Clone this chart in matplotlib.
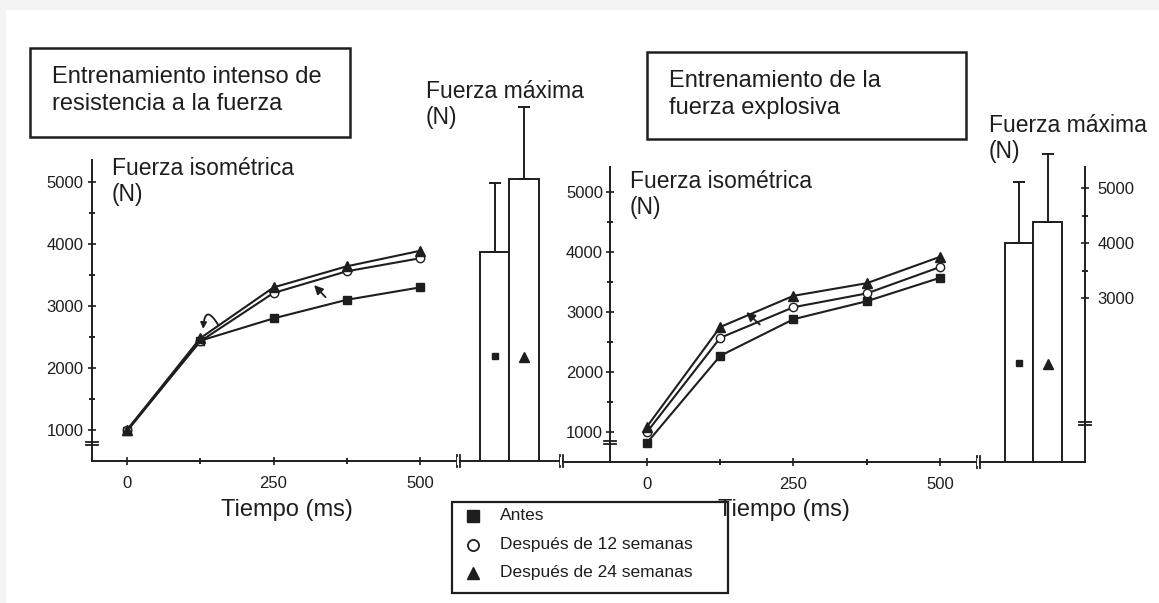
import matplotlib
matplotlib.use("Agg")
import matplotlib.pyplot as plt
from matplotlib.patches import Rectangle
from matplotlib.lines import Line2D

plt.rcParams['font.family'] = ['Liberation Sans', 'DejaVu Sans']

W, H = 1159, 603
INK = '#1e1e1e'

# datos
tiempo = [0, 125, 250, 375, 500]
tiempo_ticks = [0, 250, 500]
fuerza_ticks = [1000, 2000, 3000, 4000, 5000]

# Entrenamiento intenso de resistencia a la fuerza
res_antes = [980, 2440, 2800, 3100, 3300]
res_12 = [1000, 2430, 3210, 3560, 3770]
res_24 = [1000, 2480, 3300, 3640, 3890]
res_max = [3870, 5050]
res_max_err = [1110, 1160]
res_max_marca = [2190, 2170]

# Entrenamiento de la fuerza explosiva
exp_antes = [820, 2270, 2880, 3180, 3570]
exp_12 = [1000, 2570, 3080, 3310, 3750]
exp_24 = [1090, 2750, 3270, 3480, 3920]
exp_max = [4000, 4380]
exp_max_err = [1110, 1240]
exp_max_marca = [1820, 1800]
exp_max_ticks = [3000, 4000, 5000]

leyenda = ['Antes', 'Después de 12 semanas', 'Después de 24 semanas']


def rect(x0, y0, x1, y1):
    # pixel box -> figure coords
    return [x0 / W, 1 - y1 / H, (x1 - x0) / W, (y1 - y0) / H]


def fx(x):
    return x / W


def fy(y):
    return 1 - y / H


fig = plt.figure(figsize=(W / 100, H / 100), dpi=100, facecolor='#f4f4f4')
fig.add_artist(Rectangle((fx(6), 0), 1, fy(10), transform=fig.transFigure,
                         facecolor='white', edgecolor='none', zorder=-10))


def brk(x, y, vertical=True, gap=3, size=6):
    # small double stroke used as axis break
    for d in (-gap / 2, gap / 2):
        if vertical:
            xs, ys = [x + d, x + d], [y - size, y + size]
        else:
            xs, ys = [x - size, x + size], [y + d, y + d]
        fig.add_artist(Line2D([fx(v) for v in xs], [fy(v) for v in ys],
                              transform=fig.transFigure, color=INK, lw=1.3))
    if vertical:
        fig.add_artist(Rectangle((fx(x - gap / 2 + 0.6), fy(y + size - 2)),
                                 (gap - 1.2) / W, (2 * size - 4) / H,
                                 transform=fig.transFigure, facecolor='white',
                                 edgecolor='none', zorder=5))


def style_axis(ax):
    ax.set_facecolor('none')
    for s in ax.spines.values():
        s.set_color(INK)
        s.set_linewidth(1.4)
    ax.tick_params(colors=INK, labelsize=12, direction='inout', length=6, width=1.2)
    ax.tick_params(which='minor', direction='inout', length=5, width=1.2)


def curvas(ax, antes, s12, s24):
    kw = dict(color=INK, lw=1.5, clip_on=False)
    ax.plot(tiempo, antes, marker='s', ms=6, mfc=INK, mec=INK, **kw)
    ax.plot(tiempo, s12, marker='o', ms=6, mfc='white', mec=INK, **kw)
    ax.plot(tiempo, s24, marker='^', ms=7, mfc=INK, mec=INK, **kw)


# ---- panel izquierdo: curva
ax1 = fig.add_axes(rect(92, 160, 455, 461))
style_axis(ax1)
curvas(ax1, res_antes, res_12, res_24)
ax1.set_xlim(-59.7, 559.7)
ax1.set_ylim(500, 5355)
ax1.spines[['top', 'right']].set_visible(False)
ax1.set_xticks(tiempo_ticks)
ax1.set_xticks([125, 375], minor=True)
ax1.set_yticks(fuerza_ticks)
ax1.set_yticks([1500, 2500, 3500, 4500], minor=True)
ax1.tick_params(axis='x', pad=8)
ax1.tick_params(axis='y', pad=3)
ax1.annotate('', xy=(316, 3370), xytext=(342, 3110),
             arrowprops=dict(arrowstyle='-|>', color=INK, lw=1.3, mutation_scale=13))
ax1.annotate('', xy=(130, 2630), xytext=(156, 2690),
             arrowprops=dict(arrowstyle='-|>', color=INK, lw=1.3, mutation_scale=9,
                             shrinkA=0, shrinkB=0,
                             connectionstyle='arc3,rad=1.6'))

# ---- panel izquierdo: barras
ax2 = fig.add_axes(rect(458, 100, 562, 461))
style_axis(ax2)
ax2.bar([0, 1], res_max, width=1, bottom=0, facecolor='white', edgecolor=INK, lw=1.4)
ax2.errorbar([0, 1], res_max, yerr=[[0, 0], res_max_err], fmt='none',
             ecolor=INK, elinewidth=1.4, capsize=4, capthick=1.4)
ax2.plot([0], [res_max_marca[0]], 's', ms=5, color=INK)
ax2.plot([1], [res_max_marca[1]], '^', ms=7, color=INK)
ax2.set_xlim(-1.24, 2.29)
ax2.set_ylim(500, 6323)
ax2.spines[['top', 'right', 'left']].set_visible(False)
ax2.set_xticks([])
ax2.set_yticks([])

# ---- panel derecho: curva
ax3 = fig.add_axes(rect(562, 167, 975, 462))
style_axis(ax3)
curvas(ax3, exp_antes, exp_12, exp_24)
ax3.set_xlim(-145, 559.7)
ax3.set_ylim(500, 5417)
ax3.spines[['top', 'right']].set_visible(False)
ax3.spines['left'].set_position(('data', -63))
ax3.set_xticks(tiempo_ticks)
ax3.set_xticks([125, 375], minor=True)
ax3.set_yticks(fuerza_ticks)
ax3.set_yticks([1500, 2500, 3500, 4500], minor=True)
ax3.tick_params(axis='x', pad=8)
ax3.tick_params(axis='y', pad=2)
ax3.annotate('', xy=(166, 3030), xytext=(196, 2760),
             arrowprops=dict(arrowstyle='-|>', color=INK, lw=1.3, mutation_scale=13))

# ---- panel derecho: barras
ax4 = fig.add_axes(rect(978, 140, 1090, 462))
style_axis(ax4)
ax4.bar([0, 1], exp_max, width=1, bottom=0, facecolor='white', edgecolor=INK, lw=1.4)
ax4.errorbar([0, 1], exp_max, yerr=[[0, 0], exp_max_err], fmt='none',
             ecolor=INK, elinewidth=1.4, capsize=4, capthick=1.4)
ax4.plot([0], [exp_max_marca[0]], 's', ms=5, color=INK)
ax4.plot([1], [exp_max_marca[1]], '^', ms=7, color=INK)
ax4.set_xlim(-1.44, 2.49)
ax4.set_ylim(20, 5873)
ax4.spines[['top', 'left']].set_visible(False)
ax4.spines['right'].set_position(('data', 2.316))
ax4.spines['right'].set_bounds(20, 5380)
ax4.spines['bottom'].set_bounds(-1.44, 2.316)
ax4.yaxis.tick_right()
ax4.set_xticks([])
ax4.set_yticks(exp_max_ticks)
ax4.set_yticks([3500, 4500], minor=True)
ax4.tick_params(axis='y', pad=6)

# ---- cortes de eje
brk(458, 461)
brk(561, 461)
brk(978, 462)
brk(92, 443, vertical=False)
brk(610, 442, vertical=False)
brk(1085, 423, vertical=False)

# ---- textos
big = 16.5
fig.text(fx(112), fy(157), 'Fuerza isométrica\n(N)', fontsize=big, color=INK,
         va='top', linespacing=1.15)
fig.text(fx(630), fy(170), 'Fuerza isométrica\n(N)', fontsize=big, color=INK,
         va='top', linespacing=1.15)
fig.text(fx(426), fy(80), 'Fuerza máxima\n(N)', fontsize=big, color=INK,
         va='top', linespacing=1.15)
fig.text(fx(989), fy(114), 'Fuerza máxima\n(N)', fontsize=big, color=INK,
         va='top', linespacing=1.15)
fig.text(fx(287), fy(510), 'Tiempo (ms)', fontsize=17, color=INK, ha='center', va='center')
fig.text(fx(784), fy(510), 'Tiempo (ms)', fontsize=17, color=INK, ha='center', va='center')

# cajas de título
for (x0, y0, x1, y1), txt in [((30, 48, 350, 137), 'Entrenamiento intenso de\nresistencia a la fuerza'),
                              ((647, 52, 966, 139), 'Entrenamiento de la\nfuerza explosiva')]:
    fig.add_artist(Rectangle((fx(x0), fy(y1)), (x1 - x0) / W, (y1 - y0) / H,
                             transform=fig.transFigure, facecolor='white',
                             edgecolor=INK, lw=1.8))
    fig.text(fx(x0 + 22), fy(y0 + 18), txt, fontsize=17, color=INK, va='top',
             linespacing=1.3)

# leyenda
fig.add_artist(Rectangle((fx(452), fy(593)), (728 - 452) / W, (593 - 502) / H,
                         transform=fig.transFigure, facecolor='white',
                         edgecolor=INK, lw=1.6))
marcas = [dict(marker='s', ms=8, mfc=INK, mec=INK),
          dict(marker='o', ms=8, mfc='white', mec=INK, mew=1.3),
          dict(marker='^', ms=8, mfc=INK, mec=INK)]
for i, (lab, mk) in enumerate(zip(leyenda, marcas)):
    y = 516 + i * 28.5
    fig.add_artist(Line2D([fx(473)], [fy(y)], transform=fig.transFigure, ls='none', **mk))
    fig.text(fx(500), fy(y), lab, fontsize=12.5, color=INK, va='center')

fig.savefig('out.png', dpi=100, facecolor=fig.get_facecolor())
